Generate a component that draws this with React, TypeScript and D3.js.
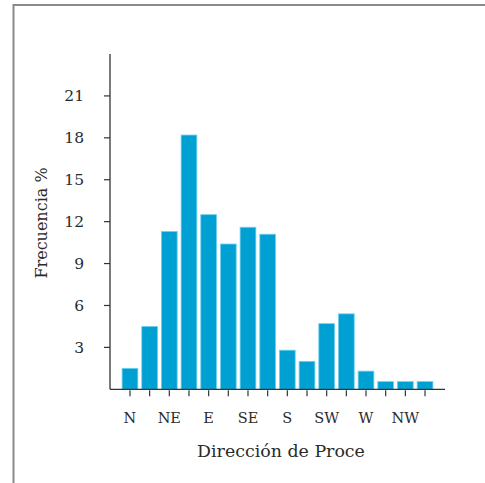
import React from "react";
import * as d3 from "d3";

const directions = ["N","NNE","NE","ENE","E","ESE","SE","SSE","S","SSW","SW","WSW","W","WNW","NW","NNW"];
const frequency = [1.5, 4.5, 11.3, 18.2, 12.5, 10.4, 11.6, 11.1, 2.8, 2.0, 4.7, 5.4, 1.3, 0.55, 0.55, 0.55];
const labeledDirections = ["N","NE","E","SE","S","SW","W","NW"];
const yTicks = [3, 6, 9, 12, 15, 18, 21];
const xTitle = "Dirección de Proce";
const yTitle = "Frecuencia %";

const W = 485, H = 483;
const axisLeft = 110, axisRight = 445, axisTop = 54, axisBottom = 389.3;
const FONT = "'DejaVu Serif', 'Liberation Serif', serif";

export default function App() {
  const x = d3.scaleBand<string>().domain(directions).range([axisLeft, axisRight]).paddingInner(0.2).paddingOuter(0.615);
  const y = d3.scaleLinear().domain([0, 24]).range([axisBottom, axisTop]);
  const axisColor = "#333";
  const textColor = "#2a2a2a";
  return (
    <svg width={W} height={H} style={{ position: "absolute", left: 0, top: 0, background: "#fff" }}>
      <rect x={13.5} y={5} width={W} height={H} fill="none" stroke="#8a8a8a" strokeWidth={2} />
      {directions.map((d, i) => (
        <rect key={d} x={x(d)} y={y(frequency[i])} width={x.bandwidth()} height={y(0) - y(frequency[i])}
          fill="#00a0d3" stroke="#6fd0f0" strokeWidth={0.8} />
      ))}
      <line x1={axisLeft} x2={axisLeft} y1={axisTop} y2={axisBottom} stroke={axisColor} strokeWidth={1.3} />
      <line x1={axisLeft} x2={axisRight} y1={axisBottom} y2={axisBottom} stroke={axisColor} strokeWidth={1.3} />
      {yTicks.map(t => (
        <g key={t}>
          <line x1={axisLeft - 6} x2={axisLeft} y1={y(t)} y2={y(t)} stroke={axisColor} strokeWidth={1.2} />
          <text x={84} y={y(t)} dy="0.36em" textAnchor="end" fontFamily={FONT} fontSize={15.5} fill={textColor}>{t}</text>
        </g>
      ))}
      {directions.map(d => (
        <line key={d} x1={x(d)! + x.bandwidth() / 2} x2={x(d)! + x.bandwidth() / 2} y1={axisBottom + 1} y2={axisBottom + 7} stroke={axisColor} strokeWidth={1.2} />
      ))}
      {labeledDirections.map(d => (
        <text key={d} x={x(d)! + x.bandwidth() / 2} y={422.7} textAnchor="middle" fontFamily={FONT} fontSize={14.5} fill={textColor}>{d}</text>
      ))}
      <text x={281} y={457.3} textAnchor="middle" fontFamily={FONT} fontSize={17.4} fill={textColor}>{xTitle}</text>
      <text transform={`translate(46.5, 223) rotate(-90)`} textAnchor="middle" fontFamily={FONT} fontSize={16} fill={textColor}>{yTitle}</text>
    </svg>
  );
}
